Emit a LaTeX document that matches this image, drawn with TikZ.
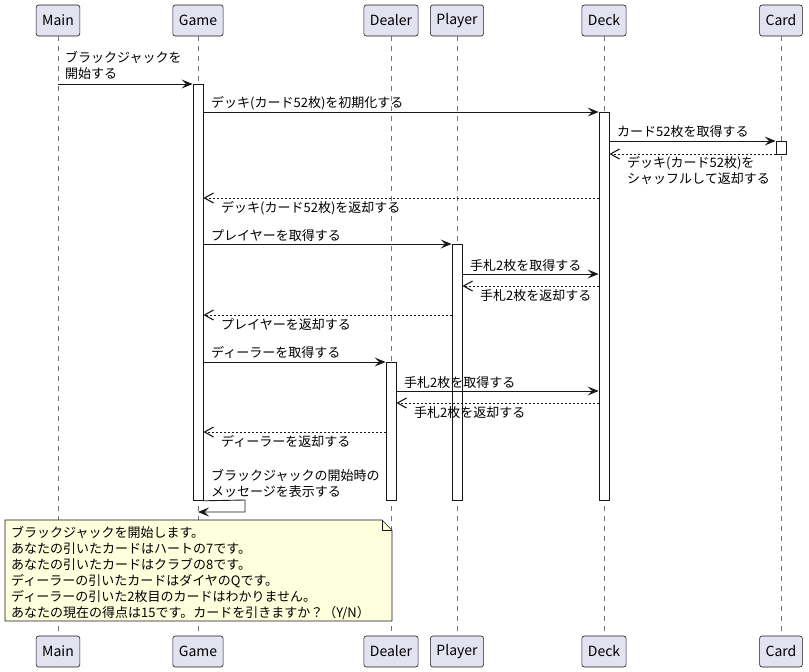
\documentclass[tikz,border=0pt]{standalone}
\usepackage{fontspec}
\setmainfont{Noto Sans CJK JP}
\usetikzlibrary{arrows.meta}
\definecolor{partfill}{HTML}{E2E2F0}
\definecolor{ink}{HTML}{181818}
\definecolor{notefill}{HTML}{FEFFDD}
\begin{document}
\begin{tikzpicture}[x=1pt,y=-1pt,
  part/.style={draw=ink,fill=partfill,rounded corners=2.5pt,line width=0.6pt,
    minimum height=31pt,inner xsep=6pt,font=\fontsize{14}{16}\selectfont},
  lifeline/.style={draw=ink!60,line width=0.5pt,dash pattern=on 5pt off 5pt},
  actbox/.style={draw=ink,fill=white,line width=0.8pt,minimum width=10pt,inner sep=0pt,anchor=north},
  msg/.style={draw=ink,line width=0.9pt,-{Stealth[length=11pt,width=9pt,inset=4.5pt]}},
  ret/.style={draw=ink,line width=0.8pt,dash pattern=on 2pt off 2pt,-{Straight Barb[length=9pt,width=10pt,line width=1.1pt]}},
  % multi-line labels are anchored at the baseline of their last line
  lbl/.style={anchor=base west,inner sep=0pt,align=left,font=\fontsize{13}{16}\selectfont},
]
\useasboundingbox (0,0) rectangle (809,672);

% participants, top and bottom
\foreach \n/\t/\x in {main/Main/58,game/Game/198,dealer/Dealer/391,player/Player/457,deck/Deck/604,card/Card/781}{
  \node[part] (\n T) at (\x,20.5) {\t};
  \node[part] (\n B) at (\x,651.5) {\t};
  \draw[lifeline] (\n T.south) -- (\n B.north);
}

% activation bars
\node[actbox,minimum height=416pt] (gameA) at (198,84) {};
\node[actbox,minimum height=388pt] (deckA) at (604,112) {};
\node[actbox,minimum height=13pt] (cardA) at (781,141) {};
\node[actbox,minimum height=256pt] (playerA) at (457,244) {};
\node[actbox,minimum height=138pt] (dealerA) at (391,362) {};

% messages
\draw[msg] (mainT |- 0,84) -- (gameA.west |- 0,84);
\node[lbl] (l1) at (65,78) {ブラックジャックを\\開始する};
\draw[msg] (gameA.east |- 0,112) -- (deckA.west |- 0,112);
\node[lbl] (l2) at (211,107) {デッキ(カード52枚)を初期化する};
\draw[msg] (deckA.east |- 0,141) -- (cardA.west |- 0,141);
\node[lbl] (l3) at (617,136) {カード52枚を取得する};
\draw[ret] (cardA.west |- 0,154) -- (deckA.east |- 0,154);
\node[lbl] (l4) at (627,183) {デッキ(カード52枚)を\\シャッフルして返却する};
\draw[ret] (deckA.west |- 0,198) -- (gameA.east |- 0,198);
\node[lbl] (l5) at (221,212) {デッキ(カード52枚)を返却する};
\draw[msg] (gameA.east |- 0,244) -- (playerA.west |- 0,244);
\node[lbl] (l6) at (211,240) {プレイヤーを取得する};
\draw[msg] (playerA.east |- 0,274) -- (deckA.west |- 0,274);
\node[lbl] (l7) at (470,270) {手札2枚を取得する};
\draw[ret] (deckA.west |- 0,286) -- (playerA.east |- 0,286);
\node[lbl] (l8) at (480,300) {手札2枚を返却する};
\draw[ret] (playerA.west |- 0,315) -- (gameA.east |- 0,315);
\node[lbl] (l9) at (221,329) {プレイヤーを返却する};
\draw[msg] (gameA.east |- 0,362) -- (dealerA.west |- 0,362);
\node[lbl] (l10) at (211,357) {ディーラーを取得する};
\draw[msg] (dealerA.east |- 0,391) -- (deckA.west |- 0,391);
\node[lbl] (l11) at (404,387) {手札2枚を取得する};
\draw[ret] (deckA.west |- 0,403) -- (dealerA.east |- 0,403);
\node[lbl] (l12) at (414,417) {手札2枚を返却する};
\draw[ret] (dealerA.west |- 0,432) -- (gameA.east |- 0,432);
\node[lbl] (l13) at (221,446) {ディーラーを返却する};

% self message on Game
\coordinate (selfA) at (245,500);
\coordinate (selfB) at (245,512);
\draw[msg] (gameA.south east) -- (selfA) -- (selfB) -- (gameT |- selfB);
\node[lbl] (l14) at (211,496) {ブラックジャックの開始時の\\メッセージを表示する};

% note with folded corner
\draw[draw=ink,fill=notefill,line width=0.6pt]
  (5,520) -- (382,520) -- (392,530) -- (392,621) -- (5,621) -- cycle;
\draw[draw=ink,line width=0.6pt] (382,520) -- (382,530) -- (392,530);
\node[lbl] (note) at (11,617) {ブラックジャックを開始します。\\あなたの引いたカードはハートの7です。\\あなたの引いたカードはクラブの8です。\\ディーラーの引いたカードはダイヤのQです。\\ディーラーの引いた2枚目のカードはわかりません。\\あなたの現在の得点は15です。カードを引きますか？（Y/N）};
\end{tikzpicture}
\end{document}
